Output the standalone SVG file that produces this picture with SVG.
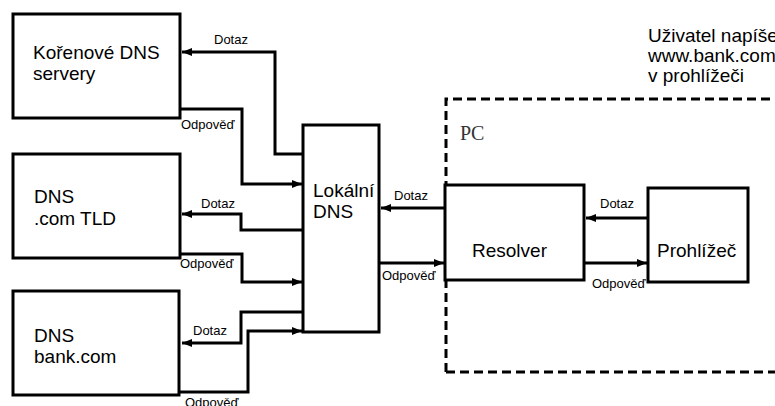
<svg xmlns="http://www.w3.org/2000/svg" width="775" height="406" viewBox="0 0 775 406">
<style>
.box{fill:#fff;stroke:#000;stroke-width:3}
.ln{fill:none;stroke:#000;stroke-width:3}
.big{font-family:"Liberation Sans",Arial,sans-serif;font-size:19px;fill:#000}
.lbl{font-family:"Liberation Sans",Arial,sans-serif;font-size:13px;fill:#000}
.pc{font-family:"Liberation Serif","Times New Roman",serif;font-size:20px;fill:#333}
</style>
<defs>
<marker id="ah" markerUnits="userSpaceOnUse" markerWidth="10" markerHeight="10" viewBox="0 0 10 10" refX="10" refY="5" orient="auto">
<path d="M0,1 L10,5 L0,9 Z" fill="#000"/>
</marker>
</defs>
<rect width="775" height="406" fill="#fff"/>
<g id="pc-boundary">
<path d="M446,372 V99 H775 M446,372 H775" fill="none" stroke="#000" stroke-width="3" stroke-dasharray="9,5"/>
<text class="pc" x="460" y="140">PC</text>
</g>
<g id="note">
<text class="big" x="648" y="42">Uživatel napíše</text>
<text class="big" x="648" y="62">www.bank.com</text>
<text class="big" x="648" y="82">v prohlížeči</text>
</g>
<g id="root">
<rect class="box" x="13" y="14" width="167" height="104"/>
<text class="big" x="33" y="59">Kořenové DNS</text>
<text class="big" x="33" y="80">servery</text>
</g>
<g id="tld">
<rect class="box" x="13" y="154" width="167" height="104"/>
<text class="big" x="34" y="203">DNS</text>
<text class="big" x="34" y="225">.com TLD</text>
</g>
<g id="bank">
<rect class="box" x="13" y="291" width="166" height="104"/>
<text class="big" x="34" y="342">DNS</text>
<text class="big" x="34" y="363">bank.com</text>
</g>
<g id="local">
<rect class="box" x="303" y="125" width="76" height="207"/>
<text class="big" x="313" y="197">Lokální</text>
<text class="big" x="313" y="218">DNS</text>
</g>
<g id="resolver">
<rect class="box" x="445" y="185" width="139" height="95"/>
<text class="big" x="472" y="257">Resolver</text>
</g>
<g id="browser">
<rect class="box" x="648" y="188" width="100" height="94"/>
<text class="big" x="657" y="257">Prohlížeč</text>
</g>
<g id="connectors">
<path class="ln" d="M303,154 H275 V52 H182" marker-end="url(#ah)"/>
<path class="ln" d="M180,109 H242 V184 H302" marker-end="url(#ah)"/>
<path class="ln" d="M303,230 H241 V214 H182" marker-end="url(#ah)"/>
<path class="ln" d="M180,254 H242 V282 H302" marker-end="url(#ah)"/>
<path class="ln" d="M303,312 H241 V343 H182" marker-end="url(#ah)"/>
<path class="ln" d="M179,392 H248 V331 H302" marker-end="url(#ah)"/>
<path class="ln" d="M445,208 H381" marker-end="url(#ah)"/>
<path class="ln" d="M379,263 H444" marker-end="url(#ah)"/>
<path class="ln" d="M648,218 H586" marker-end="url(#ah)"/>
<path class="ln" d="M584,263 H647" marker-end="url(#ah)"/>
<text class="lbl" x="214" y="44">Dotaz</text>
<text class="lbl" x="181" y="129">Odpověď</text>
<text class="lbl" x="201" y="208">Dotaz</text>
<text class="lbl" x="180" y="268">Odpověď</text>
<text class="lbl" x="193" y="335">Dotaz</text>
<text class="lbl" x="185" y="407">Odpověď</text>
<text class="lbl" x="394" y="200">Dotaz</text>
<text class="lbl" x="382" y="280">Odpověď</text>
<text class="lbl" x="600" y="208">Dotaz</text>
<text class="lbl" x="592" y="288">Odpověď</text>
</g>
</svg>
